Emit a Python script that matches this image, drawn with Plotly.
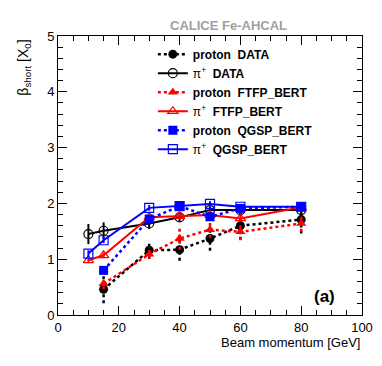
import plotly.graph_objects as go

# beam momenta [GeV]
p_proton = [15, 30, 40, 50, 60, 80]
p_pion = [10, 15, 30, 40, 50, 60, 80]

# beta_short [X0]
proton_data = [0.46, 1.16, 1.17, 1.37, 1.60, 1.71]
proton_data_err = [0.25, 0.15, 0.2, 0.22, 0.25, 0.25]
pion_data = [1.45, 1.51, 1.64, 1.75, 1.88, 1.88, 1.88]
pion_data_err = [0.18, 0.15, 0.1, 0.08, 0.06, 0.06, 0.06]

proton_ftfp = [0.56, 1.09, 1.37, 1.53, 1.49, 1.64]
proton_ftfp_err = [0.1, 0.08, 0.2, 0.15, 0.15, 0.15]
pion_ftfp = [0.98, 1.07, 1.75, 1.77, 1.79, 1.73, 1.93]
pion_ftfp_err = [0.05, 0.05, 0.05, 0.05, 0.05, 0.05, 0.07]

proton_qgsp = [0.80, 1.72, 1.95, 1.76, 1.91, 1.94]
proton_qgsp_err = [0.07, 0.06, 0.06, 0.06, 0.06, 0.06]
pion_qgsp = [1.10, 1.34, 1.92, 1.95, 1.99, 1.94, 1.94]
pion_qgsp_err = [0.06, 0.05, 0.05, 0.05, 0.05, 0.05, 0.05]

FONT = "Liberation Sans, Arial, sans-serif"


def dotted_bars(x, y, err):
    # vertical dotted error bars built from the data arrays
    xs, ys = [], []
    for xi, yi, ei in zip(x, y, err):
        xs += [xi, xi, None]
        ys += [yi - ei, yi + ei, None]
    return xs, ys


fig = go.Figure()

series = [
    # name, x, y, err, colour, dash, symbol
    ("<b>proton  DATA</b>", p_proton, proton_data, proton_data_err, "black", "dot", "circle"),
    ("π<sup>+</sup>  <b>DATA</b>", p_pion, pion_data, pion_data_err, "black", "solid", "circle-open"),
    ("<b>proton  FTFP_BERT</b>", p_proton, proton_ftfp, proton_ftfp_err, "red", "dot", "triangle-up"),
    ("π<sup>+</sup>  <b>FTFP_BERT</b>", p_pion, pion_ftfp, pion_ftfp_err, "red", "solid", "triangle-up-open"),
    ("<b>proton  QGSP_BERT</b>", p_proton, proton_qgsp, proton_qgsp_err, "blue", "dot", "square"),
    ("π<sup>+</sup>  <b>QGSP_BERT</b>", p_pion, pion_qgsp, pion_qgsp_err, "blue", "solid", "square-open"),
]

for name, x, y, err, col, dash, sym in series:
    if dash == "dot":
        bx, by = dotted_bars(x, y, err)
        fig.add_trace(go.Scatter(x=bx, y=by, mode="lines", showlegend=False,
                                 line=dict(color=col, width=2.5, dash="dot"),
                                 hoverinfo="skip"))
        fig.add_trace(go.Scatter(x=x, y=y, name=name, mode="lines+markers",
                                 line=dict(color=col, width=2.5, dash="dot"),
                                 marker=dict(color=col, size=9, symbol=sym)))
    else:
        fig.add_trace(go.Scatter(x=x, y=y, name=name, mode="lines+markers",
                                 line=dict(color=col, width=2),
                                 marker=dict(color=col, size=9, symbol=sym,
                                             line=dict(color=col, width=1.2)),
                                 error_y=dict(type="data", array=err, color=col,
                                              thickness=2, width=0)))

fig.update_xaxes(range=[0, 100], dtick=20, ticks="inside", ticklen=9,
                 tickcolor="black", showline=True, linecolor="black", linewidth=1,
                 mirror="ticks", showgrid=False, zeroline=False,
                 minor=dict(dtick=5, ticks="inside", ticklen=5, tickcolor="black"),
                 tickfont=dict(size=13, color="black"))
fig.update_yaxes(range=[0, 5], dtick=1, ticks="inside", ticklen=9,
                 tickcolor="black", showline=True, linecolor="black", linewidth=1,
                 mirror="ticks", showgrid=False, zeroline=False,
                 minor=dict(dtick=0.2, ticks="inside", ticklen=5, tickcolor="black"),
                 tickfont=dict(size=13, color="black"))

fig.add_annotation(text="<b>CALICE Fe-AHCAL</b>", xref="paper", yref="paper",
                   x=0.56, y=1.036, xanchor="center", yanchor="middle", showarrow=False,
                   font=dict(size=13, color="#a0a0a0"))
fig.add_annotation(text="β<sub>short</sub> [X<sub>0</sub>]", xref="paper", yref="paper",
                   x=-0.11, y=0.885, xanchor="center", yanchor="middle",
                   textangle=-90, showarrow=False,
                   font=dict(size=14, color="black"))
fig.add_annotation(text="Beam momentum [GeV]", xref="paper", yref="paper",
                   x=1.0, y=-0.1, xanchor="right", yanchor="middle", showarrow=False,
                   font=dict(size=13, color="black"))
fig.add_annotation(text="<b>(a)</b>", xref="paper", yref="paper",
                   x=0.878, y=0.068, xanchor="center", yanchor="middle", showarrow=False,
                   font=dict(size=17, color="black"))

fig.update_layout(
    width=382, height=366,
    margin=dict(l=58, r=20, t=36, b=51, autoexpand=False),
    plot_bgcolor="white", paper_bgcolor="white",
    font=dict(family=FONT, color="black"),
    legend=dict(x=0.312, y=0.987, xanchor="left", yanchor="top",
                bgcolor="rgba(0,0,0,0)", font=dict(size=12),
                itemwidth=30, tracegroupgap=0),
)

fig.write_html("out.html", config={"displayModeBar": False},
               post_script="document.body.style.margin='0';")
